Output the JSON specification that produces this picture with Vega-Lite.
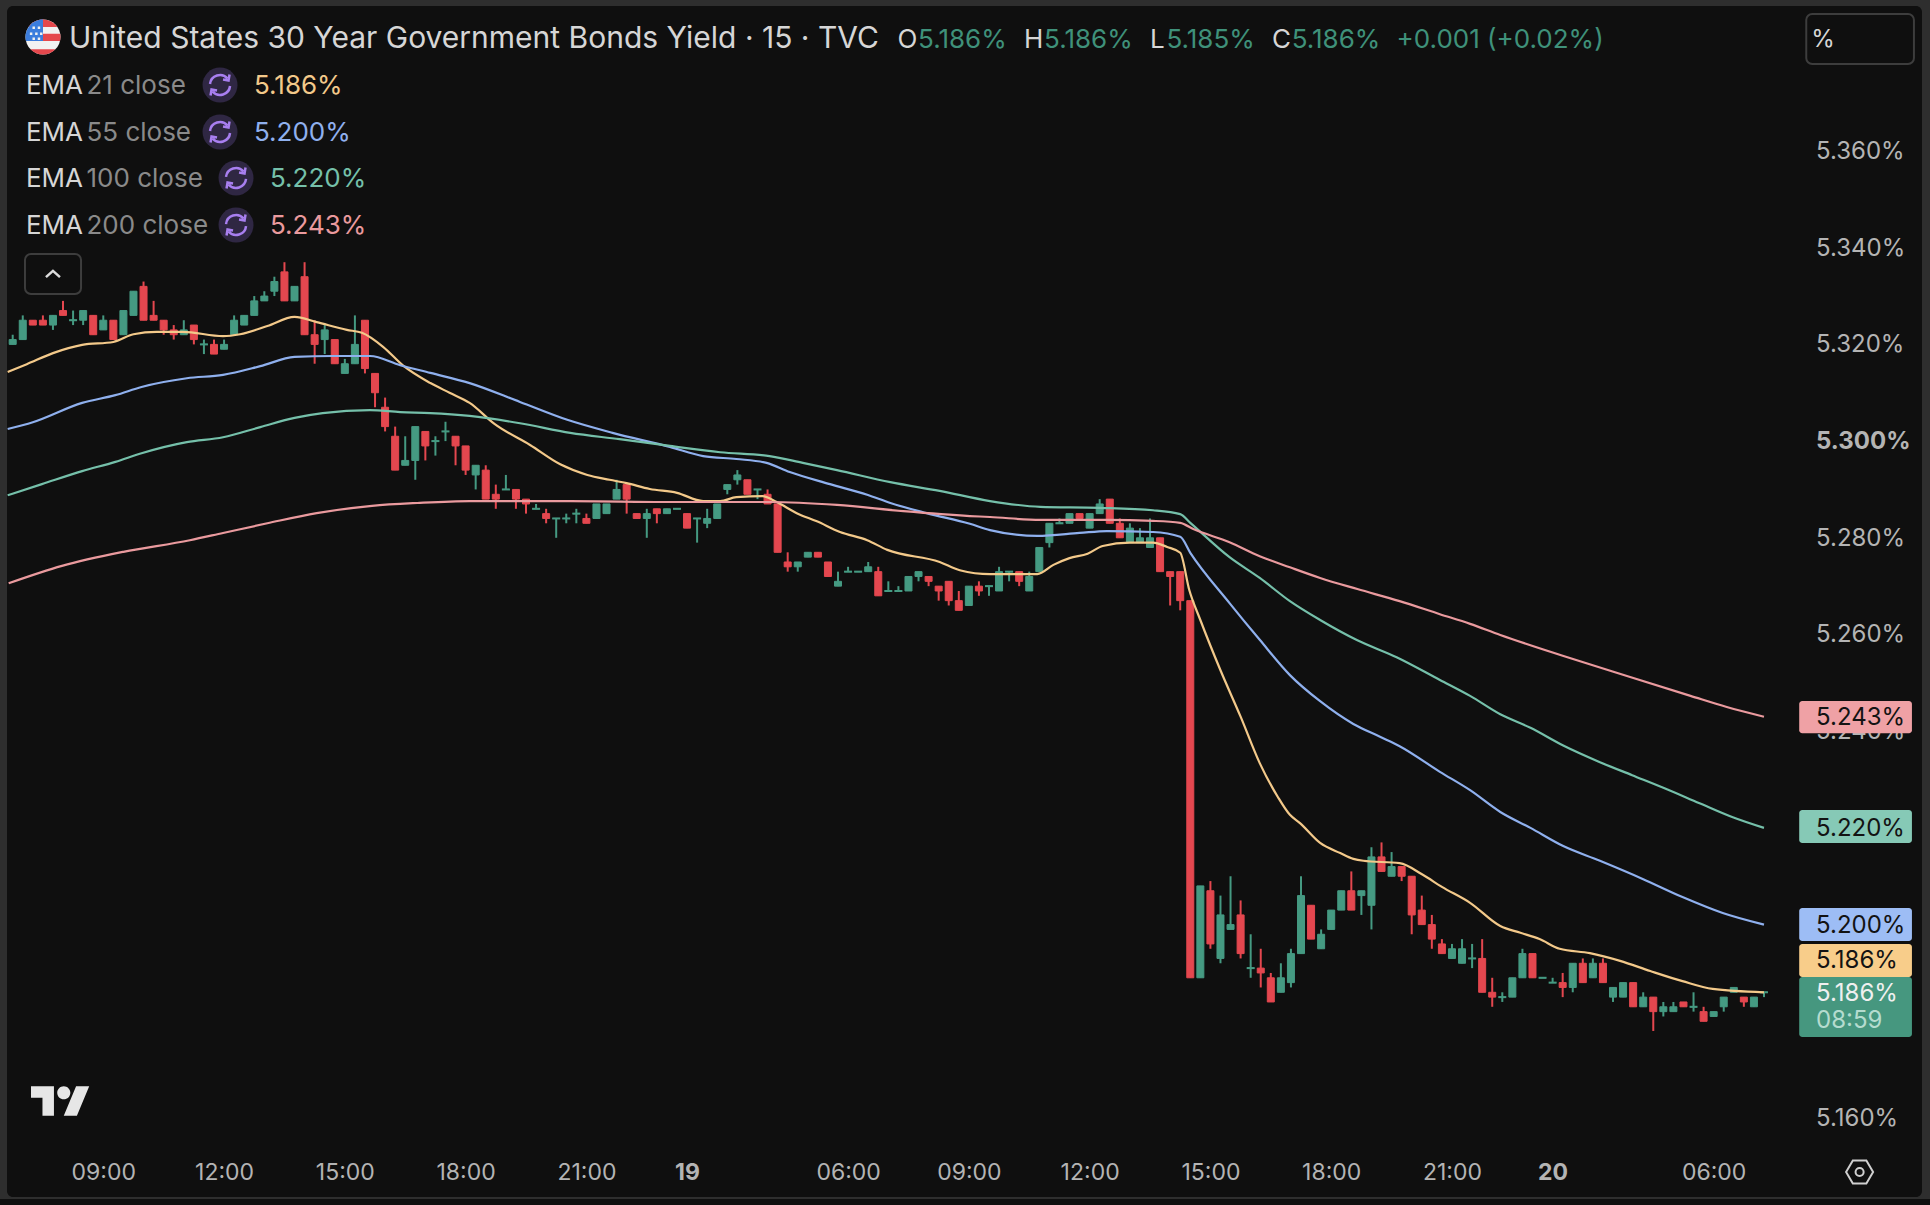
{
  "$schema": "https://vega.github.io/schema/vega-lite/v6.json",
  "width": 1915,
  "height": 1191,
  "autosize": {"type": "none"},
  "padding": {"left": 7, "top": 6, "right": 8, "bottom": 8},
  "background": "#2e2e2e",
  "view": {"fill": "#0f0f0f", "stroke": null, "cornerRadius": 6},
  "config": {"font": "Inter"},
  "datasets": {
    "candles": [
      {"bar":0,"open":5.320,"high":5.322,"low":5.320,"close":5.321,"role":"up"},
      {"bar":1,"open":5.321,"high":5.326,"low":5.321,"close":5.325,"role":"up"},
      {"bar":2,"open":5.325,"high":5.325,"low":5.324,"close":5.324,"role":"down"},
      {"bar":3,"open":5.325,"high":5.326,"low":5.324,"close":5.324,"role":"down"},
      {"bar":4,"open":5.324,"high":5.326,"low":5.323,"close":5.326,"role":"up"},
      {"bar":5,"open":5.327,"high":5.329,"low":5.326,"close":5.326,"role":"down"},
      {"bar":6,"open":5.325,"high":5.327,"low":5.324,"close":5.325,"role":"up"},
      {"bar":7,"open":5.325,"high":5.327,"low":5.324,"close":5.327,"role":"up"},
      {"bar":8,"open":5.326,"high":5.326,"low":5.322,"close":5.322,"role":"down"},
      {"bar":9,"open":5.323,"high":5.326,"low":5.323,"close":5.325,"role":"up"},
      {"bar":10,"open":5.325,"high":5.325,"low":5.321,"close":5.321,"role":"down"},
      {"bar":11,"open":5.322,"high":5.327,"low":5.322,"close":5.327,"role":"up"},
      {"bar":12,"open":5.326,"high":5.331,"low":5.326,"close":5.331,"role":"up"},
      {"bar":13,"open":5.332,"high":5.333,"low":5.325,"close":5.325,"role":"down"},
      {"bar":14,"open":5.326,"high":5.329,"low":5.325,"close":5.325,"role":"down"},
      {"bar":15,"open":5.325,"high":5.325,"low":5.322,"close":5.323,"role":"down"},
      {"bar":16,"open":5.323,"high":5.324,"low":5.321,"close":5.322,"role":"down"},
      {"bar":17,"open":5.322,"high":5.325,"low":5.322,"close":5.323,"role":"up"},
      {"bar":18,"open":5.324,"high":5.324,"low":5.320,"close":5.321,"role":"down"},
      {"bar":19,"open":5.320,"high":5.321,"low":5.318,"close":5.320,"role":"up"},
      {"bar":20,"open":5.320,"high":5.321,"low":5.318,"close":5.318,"role":"down"},
      {"bar":21,"open":5.319,"high":5.321,"low":5.319,"close":5.320,"role":"up"},
      {"bar":22,"open":5.322,"high":5.326,"low":5.322,"close":5.325,"role":"up"},
      {"bar":23,"open":5.324,"high":5.326,"low":5.324,"close":5.326,"role":"up"},
      {"bar":24,"open":5.326,"high":5.330,"low":5.326,"close":5.329,"role":"up"},
      {"bar":25,"open":5.329,"high":5.331,"low":5.329,"close":5.330,"role":"up"},
      {"bar":26,"open":5.331,"high":5.334,"low":5.330,"close":5.333,"role":"up"},
      {"bar":27,"open":5.335,"high":5.337,"low":5.329,"close":5.329,"role":"down"},
      {"bar":28,"open":5.329,"high":5.332,"low":5.329,"close":5.332,"role":"up"},
      {"bar":29,"open":5.334,"high":5.337,"low":5.322,"close":5.322,"role":"down"},
      {"bar":30,"open":5.322,"high":5.325,"low":5.316,"close":5.320,"role":"down"},
      {"bar":31,"open":5.321,"high":5.324,"low":5.318,"close":5.323,"role":"up"},
      {"bar":32,"open":5.321,"high":5.321,"low":5.316,"close":5.316,"role":"down"},
      {"bar":33,"open":5.314,"high":5.317,"low":5.314,"close":5.316,"role":"up"},
      {"bar":34,"open":5.316,"high":5.326,"low":5.316,"close":5.320,"role":"up"},
      {"bar":35,"open":5.325,"high":5.325,"low":5.314,"close":5.315,"role":"down"},
      {"bar":36,"open":5.314,"high":5.314,"low":5.307,"close":5.310,"role":"down"},
      {"bar":37,"open":5.307,"high":5.309,"low":5.302,"close":5.303,"role":"down"},
      {"bar":38,"open":5.301,"high":5.303,"low":5.294,"close":5.294,"role":"down"},
      {"bar":39,"open":5.295,"high":5.301,"low":5.295,"close":5.296,"role":"up"},
      {"bar":40,"open":5.296,"high":5.303,"low":5.292,"close":5.303,"role":"up"},
      {"bar":41,"open":5.302,"high":5.302,"low":5.296,"close":5.299,"role":"down"},
      {"bar":42,"open":5.300,"high":5.301,"low":5.297,"close":5.300,"role":"up"},
      {"bar":43,"open":5.302,"high":5.304,"low":5.300,"close":5.302,"role":"up"},
      {"bar":44,"open":5.301,"high":5.301,"low":5.295,"close":5.299,"role":"down"},
      {"bar":45,"open":5.299,"high":5.299,"low":5.293,"close":5.294,"role":"down"},
      {"bar":46,"open":5.293,"high":5.295,"low":5.290,"close":5.295,"role":"up"},
      {"bar":47,"open":5.294,"high":5.295,"low":5.288,"close":5.288,"role":"down"},
      {"bar":48,"open":5.289,"high":5.291,"low":5.286,"close":5.288,"role":"down"},
      {"bar":49,"open":5.290,"high":5.293,"low":5.290,"close":5.290,"role":"up"},
      {"bar":50,"open":5.290,"high":5.290,"low":5.286,"close":5.288,"role":"down"},
      {"bar":51,"open":5.288,"high":5.288,"low":5.285,"close":5.287,"role":"down"},
      {"bar":52,"open":5.286,"high":5.287,"low":5.286,"close":5.286,"role":"up"},
      {"bar":53,"open":5.285,"high":5.286,"low":5.283,"close":5.284,"role":"down"},
      {"bar":54,"open":5.284,"high":5.284,"low":5.280,"close":5.284,"role":"up"},
      {"bar":55,"open":5.284,"high":5.285,"low":5.283,"close":5.284,"role":"up"},
      {"bar":56,"open":5.285,"high":5.286,"low":5.283,"close":5.285,"role":"up"},
      {"bar":57,"open":5.284,"high":5.285,"low":5.283,"close":5.283,"role":"down"},
      {"bar":58,"open":5.284,"high":5.287,"low":5.284,"close":5.287,"role":"up"},
      {"bar":59,"open":5.285,"high":5.287,"low":5.285,"close":5.287,"role":"up"},
      {"bar":60,"open":5.288,"high":5.292,"low":5.288,"close":5.290,"role":"up"},
      {"bar":61,"open":5.291,"high":5.291,"low":5.285,"close":5.288,"role":"down"},
      {"bar":62,"open":5.285,"high":5.285,"low":5.284,"close":5.284,"role":"down"},
      {"bar":63,"open":5.284,"high":5.286,"low":5.280,"close":5.285,"role":"up"},
      {"bar":64,"open":5.286,"high":5.286,"low":5.283,"close":5.285,"role":"down"},
      {"bar":65,"open":5.285,"high":5.286,"low":5.285,"close":5.286,"role":"up"},
      {"bar":66,"open":5.286,"high":5.286,"low":5.286,"close":5.286,"role":"up"},
      {"bar":67,"open":5.285,"high":5.285,"low":5.282,"close":5.282,"role":"down"},
      {"bar":68,"open":5.284,"high":5.284,"low":5.279,"close":5.284,"role":"up"},
      {"bar":69,"open":5.283,"high":5.286,"low":5.282,"close":5.284,"role":"up"},
      {"bar":70,"open":5.284,"high":5.287,"low":5.284,"close":5.287,"role":"up"},
      {"bar":71,"open":5.290,"high":5.291,"low":5.289,"close":5.291,"role":"up"},
      {"bar":72,"open":5.292,"high":5.294,"low":5.291,"close":5.293,"role":"up"},
      {"bar":73,"open":5.292,"high":5.292,"low":5.289,"close":5.289,"role":"down"},
      {"bar":74,"open":5.290,"high":5.290,"low":5.288,"close":5.290,"role":"up"},
      {"bar":75,"open":5.289,"high":5.290,"low":5.287,"close":5.287,"role":"down"},
      {"bar":76,"open":5.287,"high":5.287,"low":5.277,"close":5.277,"role":"down"},
      {"bar":77,"open":5.275,"high":5.277,"low":5.273,"close":5.274,"role":"down"},
      {"bar":78,"open":5.274,"high":5.275,"low":5.273,"close":5.275,"role":"up"},
      {"bar":79,"open":5.276,"high":5.277,"low":5.276,"close":5.277,"role":"up"},
      {"bar":80,"open":5.277,"high":5.277,"low":5.276,"close":5.276,"role":"down"},
      {"bar":81,"open":5.275,"high":5.275,"low":5.272,"close":5.272,"role":"down"},
      {"bar":82,"open":5.270,"high":5.273,"low":5.270,"close":5.271,"role":"up"},
      {"bar":83,"open":5.273,"high":5.274,"low":5.273,"close":5.273,"role":"up"},
      {"bar":84,"open":5.273,"high":5.273,"low":5.273,"close":5.273,"role":"up"},
      {"bar":85,"open":5.273,"high":5.275,"low":5.273,"close":5.274,"role":"up"},
      {"bar":86,"open":5.273,"high":5.274,"low":5.268,"close":5.268,"role":"down"},
      {"bar":87,"open":5.269,"high":5.271,"low":5.269,"close":5.269,"role":"up"},
      {"bar":88,"open":5.269,"high":5.270,"low":5.269,"close":5.269,"role":"up"},
      {"bar":89,"open":5.269,"high":5.272,"low":5.269,"close":5.272,"role":"up"},
      {"bar":90,"open":5.272,"high":5.273,"low":5.271,"close":5.273,"role":"up"},
      {"bar":91,"open":5.272,"high":5.272,"low":5.270,"close":5.271,"role":"down"},
      {"bar":92,"open":5.270,"high":5.270,"low":5.267,"close":5.269,"role":"down"},
      {"bar":93,"open":5.271,"high":5.271,"low":5.266,"close":5.267,"role":"down"},
      {"bar":94,"open":5.267,"high":5.269,"low":5.265,"close":5.265,"role":"down"},
      {"bar":95,"open":5.266,"high":5.270,"low":5.266,"close":5.270,"role":"up"},
      {"bar":96,"open":5.270,"high":5.271,"low":5.268,"close":5.269,"role":"down"},
      {"bar":97,"open":5.270,"high":5.270,"low":5.268,"close":5.270,"role":"up"},
      {"bar":98,"open":5.269,"high":5.274,"low":5.269,"close":5.273,"role":"up"},
      {"bar":99,"open":5.273,"high":5.273,"low":5.271,"close":5.273,"role":"up"},
      {"bar":100,"open":5.273,"high":5.273,"low":5.270,"close":5.271,"role":"down"},
      {"bar":101,"open":5.269,"high":5.273,"low":5.269,"close":5.272,"role":"up"},
      {"bar":102,"open":5.273,"high":5.278,"low":5.273,"close":5.278,"role":"up"},
      {"bar":103,"open":5.279,"high":5.283,"low":5.278,"close":5.283,"role":"up"},
      {"bar":104,"open":5.283,"high":5.284,"low":5.283,"close":5.283,"role":"up"},
      {"bar":105,"open":5.283,"high":5.285,"low":5.283,"close":5.285,"role":"up"},
      {"bar":106,"open":5.285,"high":5.285,"low":5.284,"close":5.284,"role":"down"},
      {"bar":107,"open":5.282,"high":5.285,"low":5.282,"close":5.285,"role":"up"},
      {"bar":108,"open":5.285,"high":5.288,"low":5.285,"close":5.287,"role":"up"},
      {"bar":109,"open":5.288,"high":5.288,"low":5.283,"close":5.283,"role":"down"},
      {"bar":110,"open":5.283,"high":5.284,"low":5.280,"close":5.280,"role":"down"},
      {"bar":111,"open":5.279,"high":5.283,"low":5.279,"close":5.282,"role":"up"},
      {"bar":112,"open":5.279,"high":5.282,"low":5.279,"close":5.280,"role":"up"},
      {"bar":113,"open":5.278,"high":5.284,"low":5.278,"close":5.280,"role":"up"},
      {"bar":114,"open":5.280,"high":5.280,"low":5.273,"close":5.273,"role":"down"},
      {"bar":115,"open":5.273,"high":5.273,"low":5.266,"close":5.272,"role":"down"},
      {"bar":116,"open":5.273,"high":5.273,"low":5.265,"close":5.267,"role":"down"},
      {"bar":117,"open":5.267,"high":5.267,"low":5.189,"close":5.189,"role":"down"},
      {"bar":118,"open":5.189,"high":5.208,"low":5.189,"close":5.208,"role":"up"},
      {"bar":119,"open":5.207,"high":5.209,"low":5.195,"close":5.196,"role":"down"},
      {"bar":120,"open":5.193,"high":5.206,"low":5.192,"close":5.202,"role":"up"},
      {"bar":121,"open":5.199,"high":5.210,"low":5.199,"close":5.200,"role":"up"},
      {"bar":122,"open":5.202,"high":5.205,"low":5.193,"close":5.194,"role":"down"},
      {"bar":123,"open":5.191,"high":5.198,"low":5.189,"close":5.191,"role":"up"},
      {"bar":124,"open":5.191,"high":5.195,"low":5.187,"close":5.190,"role":"down"},
      {"bar":125,"open":5.189,"high":5.190,"low":5.184,"close":5.184,"role":"down"},
      {"bar":126,"open":5.186,"high":5.192,"low":5.186,"close":5.189,"role":"up"},
      {"bar":127,"open":5.188,"high":5.195,"low":5.187,"close":5.194,"role":"up"},
      {"bar":128,"open":5.194,"high":5.210,"low":5.194,"close":5.206,"role":"up"},
      {"bar":129,"open":5.204,"high":5.204,"low":5.197,"close":5.197,"role":"down"},
      {"bar":130,"open":5.195,"high":5.199,"low":5.195,"close":5.198,"role":"up"},
      {"bar":131,"open":5.199,"high":5.203,"low":5.199,"close":5.203,"role":"up"},
      {"bar":132,"open":5.203,"high":5.207,"low":5.203,"close":5.207,"role":"up"},
      {"bar":133,"open":5.207,"high":5.211,"low":5.203,"close":5.203,"role":"down"},
      {"bar":134,"open":5.206,"high":5.207,"low":5.202,"close":5.207,"role":"up"},
      {"bar":135,"open":5.204,"high":5.216,"low":5.199,"close":5.214,"role":"up"},
      {"bar":136,"open":5.214,"high":5.217,"low":5.211,"close":5.211,"role":"down"},
      {"bar":137,"open":5.210,"high":5.215,"low":5.210,"close":5.212,"role":"up"},
      {"bar":138,"open":5.212,"high":5.212,"low":5.209,"close":5.210,"role":"down"},
      {"bar":139,"open":5.210,"high":5.210,"low":5.198,"close":5.202,"role":"down"},
      {"bar":140,"open":5.203,"high":5.206,"low":5.200,"close":5.200,"role":"down"},
      {"bar":141,"open":5.200,"high":5.202,"low":5.195,"close":5.197,"role":"down"},
      {"bar":142,"open":5.196,"high":5.197,"low":5.194,"close":5.194,"role":"down"},
      {"bar":143,"open":5.193,"high":5.196,"low":5.193,"close":5.195,"role":"up"},
      {"bar":144,"open":5.192,"high":5.197,"low":5.192,"close":5.195,"role":"up"},
      {"bar":145,"open":5.193,"high":5.196,"low":5.191,"close":5.193,"role":"up"},
      {"bar":146,"open":5.193,"high":5.197,"low":5.186,"close":5.186,"role":"down"},
      {"bar":147,"open":5.186,"high":5.189,"low":5.183,"close":5.185,"role":"down"},
      {"bar":148,"open":5.185,"high":5.186,"low":5.184,"close":5.185,"role":"up"},
      {"bar":149,"open":5.185,"high":5.189,"low":5.185,"close":5.189,"role":"up"},
      {"bar":150,"open":5.189,"high":5.195,"low":5.189,"close":5.194,"role":"up"},
      {"bar":151,"open":5.194,"high":5.194,"low":5.189,"close":5.189,"role":"down"},
      {"bar":152,"open":5.189,"high":5.189,"low":5.189,"close":5.189,"role":"up"},
      {"bar":153,"open":5.188,"high":5.189,"low":5.188,"close":5.188,"role":"up"},
      {"bar":154,"open":5.188,"high":5.190,"low":5.185,"close":5.187,"role":"down"},
      {"bar":155,"open":5.187,"high":5.192,"low":5.186,"close":5.192,"role":"up"},
      {"bar":156,"open":5.192,"high":5.193,"low":5.188,"close":5.188,"role":"down"},
      {"bar":157,"open":5.189,"high":5.193,"low":5.189,"close":5.192,"role":"up"},
      {"bar":158,"open":5.192,"high":5.193,"low":5.188,"close":5.188,"role":"down"},
      {"bar":159,"open":5.185,"high":5.187,"low":5.184,"close":5.187,"role":"up"},
      {"bar":160,"open":5.185,"high":5.188,"low":5.185,"close":5.188,"role":"up"},
      {"bar":161,"open":5.188,"high":5.188,"low":5.183,"close":5.183,"role":"down"},
      {"bar":162,"open":5.183,"high":5.186,"low":5.183,"close":5.185,"role":"up"},
      {"bar":163,"open":5.185,"high":5.185,"low":5.178,"close":5.182,"role":"down"},
      {"bar":164,"open":5.182,"high":5.184,"low":5.181,"close":5.183,"role":"up"},
      {"bar":165,"open":5.182,"high":5.184,"low":5.182,"close":5.183,"role":"up"},
      {"bar":166,"open":5.184,"high":5.184,"low":5.183,"close":5.183,"role":"down"},
      {"bar":167,"open":5.183,"high":5.186,"low":5.182,"close":5.183,"role":"up"},
      {"bar":168,"open":5.182,"high":5.183,"low":5.180,"close":5.180,"role":"down"},
      {"bar":169,"open":5.181,"high":5.182,"low":5.181,"close":5.182,"role":"up"},
      {"bar":170,"open":5.183,"high":5.185,"low":5.182,"close":5.185,"role":"up"},
      {"bar":171,"open":5.186,"high":5.187,"low":5.186,"close":5.187,"role":"up"},
      {"bar":172,"open":5.185,"high":5.185,"low":5.183,"close":5.184,"role":"down"},
      {"bar":173,"open":5.183,"high":5.185,"low":5.183,"close":5.185,"role":"up"},
      {"bar":174,"open":5.186,"high":5.186,"low":5.185,"close":5.186,"role":"up"}
    ],
    "emas": [
      {"bar":-0.5,"role":"ema21","value":5.3143},{"bar":1.4,"role":"ema21","value":5.3159},{"bar":4,"role":"ema21","value":5.3182},{"bar":6.9,"role":"ema21","value":5.3199},{"bar":10,"role":"ema21","value":5.3205},{"bar":12,"role":"ema21","value":5.3221},{"bar":14.3,"role":"ema21","value":5.3226},{"bar":16.9,"role":"ema21","value":5.3226},{"bar":20.9,"role":"ema21","value":5.3217},{"bar":22.6,"role":"ema21","value":5.3221},{"bar":25.3,"role":"ema21","value":5.3238},{"bar":28,"role":"ema21","value":5.3257},{"bar":30.2,"role":"ema21","value":5.3246},{"bar":33.2,"role":"ema21","value":5.323},{"bar":34.7,"role":"ema21","value":5.3224},{"bar":36.8,"role":"ema21","value":5.3195},{"bar":38.8,"role":"ema21","value":5.3156},{"bar":41.5,"role":"ema21","value":5.312},{"bar":43.4,"role":"ema21","value":5.31},{"bar":45.4,"role":"ema21","value":5.3079},{"bar":47.9,"role":"ema21","value":5.3035},{"bar":51.4,"role":"ema21","value":5.2992},{"bar":54.4,"role":"ema21","value":5.2952},{"bar":57.1,"role":"ema21","value":5.293},{"bar":59.3,"role":"ema21","value":5.292},{"bar":61,"role":"ema21","value":5.2913},{"bar":63.3,"role":"ema21","value":5.2901},{"bar":66,"role":"ema21","value":5.2893},{"bar":68.6,"role":"ema21","value":5.2876},{"bar":70.3,"role":"ema21","value":5.2876},{"bar":71.9,"role":"ema21","value":5.2884},{"bar":74.5,"role":"ema21","value":5.2886},{"bar":75.9,"role":"ema21","value":5.2874},{"bar":77.9,"role":"ema21","value":5.2851},{"bar":79.9,"role":"ema21","value":5.2834},{"bar":82.2,"role":"ema21","value":5.2812},{"bar":84.9,"role":"ema21","value":5.2795},{"bar":86.9,"role":"ema21","value":5.2775},{"bar":92.1,"role":"ema21","value":5.275},{"bar":94.1,"role":"ema21","value":5.2733},{"bar":97.1,"role":"ema21","value":5.2725},{"bar":101.8,"role":"ema21","value":5.2725},{"bar":103.4,"role":"ema21","value":5.2744},{"bar":105,"role":"ema21","value":5.2758},{"bar":106.8,"role":"ema21","value":5.2767},{"bar":108.3,"role":"ema21","value":5.2783},{"bar":111,"role":"ema21","value":5.279},{"bar":113.3,"role":"ema21","value":5.279},{"bar":114.7,"role":"ema21","value":5.2781},{"bar":116,"role":"ema21","value":5.2769},{"bar":116.9,"role":"ema21","value":5.2692},{"bar":118,"role":"ema21","value":5.263},{"bar":120,"role":"ema21","value":5.2526},{"bar":122,"role":"ema21","value":5.243},{"bar":123.9,"role":"ema21","value":5.2334},{"bar":125.7,"role":"ema21","value":5.2264},{"bar":126.9,"role":"ema21","value":5.2227},{"bar":127.9,"role":"ema21","value":5.221},{"bar":129.9,"role":"ema21","value":5.2169},{"bar":131.9,"role":"ema21","value":5.2148},{"bar":133.2,"role":"ema21","value":5.2136},{"bar":134.2,"role":"ema21","value":5.2132},{"bar":137.8,"role":"ema21","value":5.2127},{"bar":140.1,"role":"ema21","value":5.2103},{"bar":142,"role":"ema21","value":5.2078},{"bar":144.8,"role":"ema21","value":5.2045},{"bar":147.8,"role":"ema21","value":5.1997},{"bar":149.8,"role":"ema21","value":5.1983},{"bar":151.7,"role":"ema21","value":5.197},{"bar":153.7,"role":"ema21","value":5.195},{"bar":156.7,"role":"ema21","value":5.1941},{"bar":159.7,"role":"ema21","value":5.1925},{"bar":162.7,"role":"ema21","value":5.1904},{"bar":165.9,"role":"ema21","value":5.1883},{"bar":168.9,"role":"ema21","value":5.1867},{"bar":174,"role":"ema21","value":5.186},
      {"bar":-0.5,"role":"ema55","value":5.3025},{"bar":2,"role":"ema55","value":5.3039},{"bar":6.9,"role":"ema55","value":5.3079},{"bar":10.2,"role":"ema55","value":5.3095},{"bar":12.8,"role":"ema55","value":5.3112},{"bar":17.3,"role":"ema55","value":5.313},{"bar":20.9,"role":"ema55","value":5.3137},{"bar":24.6,"role":"ema55","value":5.3155},{"bar":28,"role":"ema55","value":5.3174},{"bar":31.8,"role":"ema55","value":5.3176},{"bar":35.5,"role":"ema55","value":5.3176},{"bar":38.5,"role":"ema55","value":5.3157},{"bar":41.5,"role":"ema55","value":5.3141},{"bar":45.4,"role":"ema55","value":5.312},{"bar":50.4,"role":"ema55","value":5.3081},{"bar":55.1,"role":"ema55","value":5.3044},{"bar":59.6,"role":"ema55","value":5.3017},{"bar":65.3,"role":"ema55","value":5.2988},{"bar":68.6,"role":"ema55","value":5.2969},{"bar":71.9,"role":"ema55","value":5.2963},{"bar":74.9,"role":"ema55","value":5.2955},{"bar":77.2,"role":"ema55","value":5.2936},{"bar":81.2,"role":"ema55","value":5.2911},{"bar":84.9,"role":"ema55","value":5.2889},{"bar":87.2,"role":"ema55","value":5.2872},{"bar":90.8,"role":"ema55","value":5.2851},{"bar":95.1,"role":"ema55","value":5.2829},{"bar":97.1,"role":"ema55","value":5.2816},{"bar":101.8,"role":"ema55","value":5.2804},{"bar":106,"role":"ema55","value":5.281},{"bar":108.7,"role":"ema55","value":5.2814},{"bar":113.3,"role":"ema55","value":5.2812},{"bar":116,"role":"ema55","value":5.2802},{"bar":117,"role":"ema55","value":5.2769},{"bar":120.9,"role":"ema55","value":5.2665},{"bar":123.9,"role":"ema55","value":5.2589},{"bar":126.9,"role":"ema55","value":5.2516},{"bar":129.9,"role":"ema55","value":5.2462},{"bar":133.2,"role":"ema55","value":5.2415},{"bar":135.9,"role":"ema55","value":5.2388},{"bar":137.8,"role":"ema55","value":5.2369},{"bar":141.8,"role":"ema55","value":5.2316},{"bar":144.8,"role":"ema55","value":5.2278},{"bar":147.8,"role":"ema55","value":5.2233},{"bar":150.8,"role":"ema55","value":5.22},{"bar":154,"role":"ema55","value":5.2163},{"bar":157.7,"role":"ema55","value":5.2132},{"bar":162,"role":"ema55","value":5.2094},{"bar":165.9,"role":"ema55","value":5.2057},{"bar":169.9,"role":"ema55","value":5.2024},{"bar":174,"role":"ema55","value":5.2},
      {"bar":-0.5,"role":"ema100","value":5.2888},{"bar":2.9,"role":"ema100","value":5.2911},{"bar":6.9,"role":"ema100","value":5.2938},{"bar":10.2,"role":"ema100","value":5.2957},{"bar":12.8,"role":"ema100","value":5.2975},{"bar":17.3,"role":"ema100","value":5.2998},{"bar":20.9,"role":"ema100","value":5.3008},{"bar":24.6,"role":"ema100","value":5.3029},{"bar":28,"role":"ema100","value":5.3048},{"bar":30.8,"role":"ema100","value":5.3058},{"bar":35.5,"role":"ema100","value":5.3064},{"bar":38.5,"role":"ema100","value":5.306},{"bar":41.5,"role":"ema100","value":5.3058},{"bar":45.4,"role":"ema100","value":5.3052},{"bar":50.4,"role":"ema100","value":5.3037},{"bar":55.4,"role":"ema100","value":5.3017},{"bar":60.3,"role":"ema100","value":5.3004},{"bar":65.3,"role":"ema100","value":5.299},{"bar":70.3,"role":"ema100","value":5.2977},{"bar":75.2,"role":"ema100","value":5.2969},{"bar":78.5,"role":"ema100","value":5.2955},{"bar":81.9,"role":"ema100","value":5.294},{"bar":87.2,"role":"ema100","value":5.2915},{"bar":92.1,"role":"ema100","value":5.2897},{"bar":97.1,"role":"ema100","value":5.2876},{"bar":102.1,"role":"ema100","value":5.2864},{"bar":108,"role":"ema100","value":5.2862},{"bar":113.3,"role":"ema100","value":5.2857},{"bar":116,"role":"ema100","value":5.2849},{"bar":117,"role":"ema100","value":5.2831},{"bar":120.9,"role":"ema100","value":5.276},{"bar":123.9,"role":"ema100","value":5.2717},{"bar":126.9,"role":"ema100","value":5.2669},{"bar":129.9,"role":"ema100","value":5.263},{"bar":133.6,"role":"ema100","value":5.2588},{"bar":137.5,"role":"ema100","value":5.2553},{"bar":141.8,"role":"ema100","value":5.2506},{"bar":144.8,"role":"ema100","value":5.2473},{"bar":147.8,"role":"ema100","value":5.2435},{"bar":150.8,"role":"ema100","value":5.2407},{"bar":154,"role":"ema100","value":5.2371},{"bar":157.7,"role":"ema100","value":5.2336},{"bar":160.9,"role":"ema100","value":5.2309},{"bar":164,"role":"ema100","value":5.2283},{"bar":167.6,"role":"ema100","value":5.2251},{"bar":170.9,"role":"ema100","value":5.2222},{"bar":174,"role":"ema100","value":5.22},
      {"bar":-0.4,"role":"ema200","value":5.2706},{"bar":4.9,"role":"ema200","value":5.2742},{"bar":11,"role":"ema200","value":5.2771},{"bar":17.6,"role":"ema200","value":5.2795},{"bar":20.9,"role":"ema200","value":5.281},{"bar":25.3,"role":"ema200","value":5.283},{"bar":30.2,"role":"ema200","value":5.2851},{"bar":35.7,"role":"ema200","value":5.2866},{"bar":40.2,"role":"ema200","value":5.2872},{"bar":45.4,"role":"ema200","value":5.2876},{"bar":55.4,"role":"ema200","value":5.2876},{"bar":65.3,"role":"ema200","value":5.2874},{"bar":75.2,"role":"ema200","value":5.2874},{"bar":81.9,"role":"ema200","value":5.2868},{"bar":88.5,"role":"ema200","value":5.2855},{"bar":95.1,"role":"ema200","value":5.2845},{"bar":97.1,"role":"ema200","value":5.2843},{"bar":102.1,"role":"ema200","value":5.2837},{"bar":108.7,"role":"ema200","value":5.2837},{"bar":113.3,"role":"ema200","value":5.2835},{"bar":116,"role":"ema200","value":5.2831},{"bar":117.3,"role":"ema200","value":5.2818},{"bar":120.9,"role":"ema200","value":5.2791},{"bar":123.9,"role":"ema200","value":5.2762},{"bar":126.9,"role":"ema200","value":5.2739},{"bar":129.9,"role":"ema200","value":5.2717},{"bar":133.6,"role":"ema200","value":5.2694},{"bar":137.8,"role":"ema200","value":5.2669},{"bar":141.8,"role":"ema200","value":5.2642},{"bar":144.8,"role":"ema200","value":5.2622},{"bar":147.8,"role":"ema200","value":5.2599},{"bar":154,"role":"ema200","value":5.2556},{"bar":160.7,"role":"ema200","value":5.2512},{"bar":166.7,"role":"ema200","value":5.2473},{"bar":170.3,"role":"ema200","value":5.245},{"bar":174,"role":"ema200","value":5.243}
    ],
    "priceScale": [
      {"bar":179.17,"value":5.16,"text":"5.160%","role":"axis"},
      {"bar":179.17,"value":5.24,"text":"5.240%","role":"axis"},
      {"bar":179.17,"value":5.26,"text":"5.260%","role":"axis"},
      {"bar":179.17,"value":5.28,"text":"5.280%","role":"axis"},
      {"bar":179.17,"value":5.32,"text":"5.320%","role":"axis"},
      {"bar":179.17,"value":5.34,"text":"5.340%","role":"axis"},
      {"bar":179.17,"value":5.36,"text":"5.360%","role":"axis"}
    ],
    "tags": [
      {"bar":177.5,"bar2":188.7,"top":5.24625,"bottom":5.23957,"role":"tag200"},
      {"bar":177.5,"bar2":188.7,"top":5.2237,"bottom":5.21688,"role":"tag100"},
      {"bar":177.5,"bar2":188.7,"top":5.20343,"bottom":5.19661,"role":"tag55"},
      {"bar":177.5,"bar2":188.7,"top":5.19599,"bottom":5.18916,"role":"tag21"},
      {"bar":177.5,"bar2":188.7,"top":5.18916,"bottom":5.17675,"role":"tagLast"}
    ],
    "tagTexts": [
      {"bar":179.17,"value":5.243,"text":"5.243%","role":"tagInk"},
      {"bar":179.17,"value":5.22,"text":"5.220%","role":"tagInk"},
      {"bar":179.17,"value":5.2,"text":"5.200%","role":"tagInk"},
      {"bar":179.17,"value":5.1927,"text":"5.186%","role":"tagInk"},
      {"bar":179.17,"value":5.18585,"text":"5.186%","role":"tagLight"},
      {"bar":179.17,"value":5.18027,"text":"08:59","role":"tagFaint"},
      {"bar":178.7,"value":5.3832,"text":"%","role":"bright"}
    ],
    "header": [
      {"bar":87.91,"value":5.3832,"text":"O","role":"bright"},
      {"bar":89.95,"value":5.3832,"text":"5.186%","role":"ohlc"},
      {"bar":100.48,"value":5.3832,"text":"H","role":"bright"},
      {"bar":102.47,"value":5.3832,"text":"5.186%","role":"ohlc"},
      {"bar":113.0,"value":5.3832,"text":"L","role":"bright"},
      {"bar":114.63,"value":5.3832,"text":"5.185%","role":"ohlc"},
      {"bar":125.12,"value":5.3832,"text":"C","role":"bright"},
      {"bar":127.07,"value":5.3832,"text":"5.186%","role":"ohlc"},
      {"bar":137.5,"value":5.3832,"text":"+0.001 (+0.02%)","role":"ohlc"},
      {"bar":1.32,"value":5.37365,"text":"EMA","role":"bright"},
      {"bar":7.33,"value":5.37365,"text":"21 close","role":"muted"},
      {"bar":23.97,"value":5.37365,"text":"5.186%","role":"ema21"},
      {"bar":1.32,"value":5.36393,"text":"EMA","role":"bright"},
      {"bar":7.33,"value":5.36393,"text":"55 close","role":"muted"},
      {"bar":23.97,"value":5.36393,"text":"5.200%","role":"ema55"},
      {"bar":1.32,"value":5.35442,"text":"EMA","role":"bright"},
      {"bar":7.33,"value":5.35442,"text":"100 close","role":"muted"},
      {"bar":25.56,"value":5.35442,"text":"5.220%","role":"ema100"},
      {"bar":1.32,"value":5.34469,"text":"EMA","role":"bright"},
      {"bar":7.33,"value":5.34469,"text":"200 close","role":"muted"},
      {"bar":25.56,"value":5.34469,"text":"5.243%","role":"ema200"}
    ],
    "icons": [
      {"bar":20.6,"value":5.37365},
      {"bar":20.6,"value":5.36393},
      {"bar":22.19,"value":5.35442},
      {"bar":22.19,"value":5.34469}
    ]
  },
  "encoding": {
    "x": {
      "field": "bar",
      "type": "quantitative",
      "scale": {"domain": [-0.566, 189.7], "nice": false, "zero": false, "padding": 0},
      "axis": {
        "title": null,
        "orient": "bottom",
        "offset": -25,
        "domain": false,
        "ticks": false,
        "tickSize": 0,
        "grid": false,
        "labelPadding": 0,
        "labelBaseline": "middle",
        "labelFontSize": 23,
        "labelColor": "#b4b4b4",
        "labelFlush": false,
        "labelOverlap": false,
        "labelBound": false,
        "values": [9, 21, 33, 45, 57, 67, 83, 95, 107, 119, 131, 143, 153, 169],
        "labelExpr": "({'9':'09:00','21':'12:00','33':'15:00','45':'18:00','57':'21:00','67':'19','83':'06:00','95':'09:00','107':'12:00','119':'15:00','131':'18:00','143':'21:00','153':'20','169':'06:00'})[datum.value]",
        "labelFontWeight": {"condition": {"test": "datum.value == 67 || datum.value == 153", "value": "bold"}, "value": "normal"}
      }
    },
    "y": {
      "field": "value",
      "type": "quantitative",
      "scale": {"domain": [5.14366, 5.38999], "nice": false, "zero": false},
      "axis": null
    },
    "color": {
      "field": "role",
      "type": "nominal",
      "legend": null,
      "scale": {
        "domain": ["up", "down", "ema21", "ema55", "ema100", "ema200", "bright", "muted", "ohlc", "axis", "tag21", "tag55", "tag100", "tag200", "tagLast", "tagInk", "tagLight", "tagFaint"],
        "range": ["#459a82", "#e4474f", "#f3c98a", "#8fb0ee", "#75c0aa", "#ea9a9e", "#d6d6d6", "#8a8a8a", "#3f917a", "#b4b4b4", "#f8cd8a", "#9dbdf5", "#86c9b6", "#efa1a5", "#46977f", "#131313", "#f0f0f0", "#b5dccf"]
      }
    }
  },
  "layer": [
    {
      "data": {"values": [{"bar": -1.262, "bar2": 190.5, "top": 5.14325, "bottom": 5.14201}]},
      "mark": {"type": "rect"},
      "encoding": {
        "x2": {"field": "bar2"},
        "y": {"field": "top", "type": "quantitative", "scale": {"domain": [5.14366, 5.38999], "nice": false, "zero": false}, "axis": null},
        "y2": {"field": "bottom"},
        "color": {"value": "#0f0f0f"}
      }
    },
    {
      "data": {"name": "priceScale"},
      "mark": {"type": "text", "align": "left", "baseline": "middle", "fontSize": 24, "dy": 1},
      "encoding": {"text": {"field": "text"}}
    },
    {
      "data": {"values": [{"bar": 179.17, "value": 5.3, "text": "5.300%", "role": "axis"}]},
      "mark": {"type": "text", "align": "left", "baseline": "middle", "fontSize": 24, "fontWeight": "bold", "dy": 1},
      "encoding": {"text": {"field": "text"}}
    },
    {
      "data": {"name": "candles"},
      "mark": {"type": "rule", "strokeWidth": 2, "clip": true},
      "encoding": {
        "y": {"field": "low", "type": "quantitative", "scale": {"domain": [5.14366, 5.38999], "nice": false, "zero": false}, "axis": null},
        "y2": {"field": "high"}
      }
    },
    {
      "data": {"name": "candles"},
      "mark": {"type": "bar", "size": 7, "strokeWidth": 1, "clip": true},
      "encoding": {
        "y": {"field": "open", "type": "quantitative", "scale": {"domain": [5.14366, 5.38999], "nice": false, "zero": false}, "axis": null},
        "y2": {"field": "close"},
        "stroke": {"field": "role", "type": "nominal", "legend": null, "scale": {"domain": ["up", "down"], "range": ["#459a82", "#e4474f"]}}
      }
    },
    {
      "data": {"name": "candles"},
      "transform": [{"filter": "datum.open == datum.close"}],
      "mark": {"type": "tick", "orient": "horizontal", "thickness": 2, "size": 8, "opacity": 1, "clip": true},
      "encoding": {
        "y": {"field": "close", "type": "quantitative", "scale": {"domain": [5.14366, 5.38999], "nice": false, "zero": false}, "axis": null}
      }
    },
    {
      "data": {"name": "emas"},
      "mark": {"type": "line", "strokeWidth": 2.2, "interpolate": "monotone", "clip": true},
      "encoding": {}
    },
    {
      "data": {"name": "tags"},
      "mark": {"type": "rect", "cornerRadius": 3},
      "encoding": {
        "x2": {"field": "bar2"},
        "y": {"field": "top", "type": "quantitative", "scale": {"domain": [5.14366, 5.38999], "nice": false, "zero": false}, "axis": null},
        "y2": {"field": "bottom"}
      }
    },
    {
      "data": {"values": [
        {"bar": 178.2, "bar2": 188.9, "top": 5.38833, "bottom": 5.37799},
        {"bar": 1.22, "bar2": 6.79, "top": 5.3387, "bottom": 5.33042}
      ]},
      "mark": {"type": "rect", "cornerRadius": 6, "stroke": "#3d3d3d", "strokeWidth": 2},
      "encoding": {
        "x2": {"field": "bar2"},
        "y": {"field": "top", "type": "quantitative", "scale": {"domain": [5.14366, 5.38999], "nice": false, "zero": false}, "axis": null},
        "y2": {"field": "bottom"},
        "color": {"value": "transparent"}
      }
    },
    {
      "data": {"name": "tagTexts"},
      "mark": {"type": "text", "align": "left", "baseline": "middle", "fontSize": 24, "dy": 1},
      "encoding": {"text": {"field": "text"}}
    },
    {
      "data": {"values": [{"bar": 5.594, "value": 5.38337, "text": "United States 30 Year Government Bonds Yield · 15 · TVC", "role": "bright"}]},
      "mark": {"type": "text", "align": "left", "baseline": "middle", "fontSize": 30, "dy": 1},
      "encoding": {"text": {"field": "text"}}
    },
    {
      "data": {"name": "header"},
      "mark": {"type": "text", "align": "left", "baseline": "middle", "fontSize": 26, "dy": 1},
      "encoding": {"text": {"field": "text"}}
    },
    {
      "data": {"name": "icons"},
      "mark": {"type": "point", "shape": "circle", "filled": true, "size": 1225, "opacity": 1, "strokeWidth": 0},
      "encoding": {"color": {"value": "#2f2743"}}
    },
    {
      "data": {"name": "icons"},
      "mark": {"type": "point", "filled": false, "size": 400, "opacity": 1, "strokeWidth": 2.5, "shape": "M-1,-0.1 A1,1 0 0 1 0.75,-0.65 M0.95,-1.05 L0.85,-0.45 L0.3,-0.55 M1,0.1 A1,1 0 0 1 -0.75,0.65 M-0.95,1.05 L-0.85,0.45 L-0.3,0.55"},
      "encoding": {"color": {"value": "#a87ff0"}}
    },
    {
      "data": {"values": [{"bar": 3.01, "value": 5.38358}]},
      "mark": {"type": "point", "shape": "circle", "filled": true, "size": 1225, "opacity": 1, "strokeWidth": 0},
      "encoding": {"color": {"value": "#f2f2f2"}}
    },
    {
      "data": {"values": [{"bar": 3.01, "value": 5.38358}]},
      "mark": {"type": "point", "filled": true, "size": 1225, "opacity": 1, "strokeWidth": 0, "shape": "M-0.82,-0.57 A1,1 0 0 1 0.82,-0.57 Z M0,-0.19 H0.98 A1,1 0 0 1 0.973,0.23 H0 Z M-0.714,0.7 A1,1 0 0 0 0.714,0.7 Z"},
      "encoding": {"color": {"value": "#e5484d"}}
    },
    {
      "data": {"values": [{"bar": 3.01, "value": 5.38358}]},
      "mark": {"type": "point", "filled": true, "size": 1225, "opacity": 1, "strokeWidth": 0, "shape": "M0,-1 V0.23 H-0.973 A1,1 0 0 1 0,-1 Z"},
      "encoding": {"color": {"value": "#3b7ddd"}}
    },
    {
      "data": {"values": [{"bar": 3.01, "value": 5.38358}]},
      "mark": {"type": "point", "filled": true, "size": 1225, "opacity": 1, "strokeWidth": 0, "shape": "M-0.6,-0.6 h0.14 v0.14 h-0.14 Z M-0.3,-0.6 h0.14 v0.14 h-0.14 Z M-0.75,-0.25 h0.14 v0.14 h-0.14 Z M-0.45,-0.25 h0.14 v0.14 h-0.14 Z M-0.17,-0.25 h0.14 v0.14 h-0.14 Z M-0.6,0.03 h0.14 v0.14 h-0.14 Z M-0.3,0.03 h0.14 v0.14 h-0.14 Z"},
      "encoding": {"color": {"value": "#f2f2f2"}}
    },
    {
      "data": {"values": [{"bar": 4.0, "value": 5.33456}]},
      "mark": {"type": "point", "filled": false, "size": 196, "opacity": 1, "strokeWidth": 2.5, "shape": "M-1,0.45 L0,-0.45 L1,0.45"},
      "encoding": {"color": {"value": "#dcdcdc"}}
    },
    {
      "data": {"values": [{"bar": 4.75, "value": 5.16352}]},
      "mark": {"type": "point", "filled": true, "size": 10.76, "opacity": 1, "strokeWidth": 0, "shape": "M-4,9 H-11 V-2 H-18 V-9 H-4 Z M10,9 H2 L9.5,-9 H17.5 Z M6,-5 A4,4 0 1 1 -2,-5 A4,4 0 1 1 6,-5 Z"},
      "encoding": {"color": {"value": "#e6e6e6"}}
    },
    {
      "data": {"values": [{"bar": 183.5, "value": 5.14883}]},
      "mark": {"type": "point", "filled": false, "size": 729, "opacity": 1, "strokeWidth": 2, "shape": "M-1,0 L-0.5,-0.85 L0.5,-0.85 L1,0 L0.5,0.85 L-0.5,0.85 Z M0.3,0 A0.3,0.3 0 1 1 -0.3,0 A0.3,0.3 0 1 1 0.3,0"},
      "encoding": {"color": {"value": "#cfcfcf"}}
    }
  ]
}
